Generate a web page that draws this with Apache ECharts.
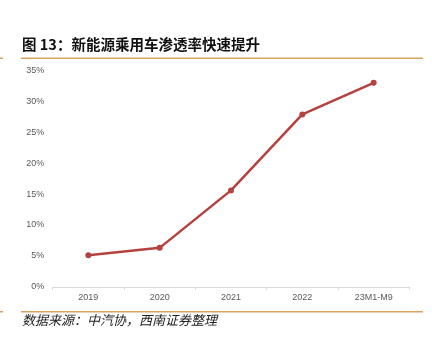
<!DOCTYPE html>
<html>
<head>
<meta charset="utf-8">
<script src="https://cdn.jsdelivr.net/npm/echarts@6/dist/echarts.min.js"></script>
<style>
  html, body { margin: 0; padding: 0; background: #fff; }
  #chart { width: 432px; height: 347px; }
</style>
</head>
<body>
<div id="chart"></div>
<script>
// Passenger NEV penetration rate by year
const categories = ['2019', '2020', '2021', '2022', '23M1-M9'];
const penetration = [5.1, 6.3, 15.6, 27.9, 33.0];
const yTicks = { min: 0, max: 35, interval: 5 };

const titleText = '图 13：新能源乘用车渗透率快速提升';
const sourceText = '数据来源：中汽协，西南证券整理';

const ruleColor = '#D8A460';
const lineColor = '#B4423F';
const labelColor = '#595959';

const chart = echarts.init(document.getElementById('chart'), null, { renderer: 'canvas' });

chart.setOption({
  animation: false,
  backgroundColor: '#fff',
  grid: { left: 52.7, right: 22.7, top: 70.5, bottom: 60.2, containLabel: false },
  xAxis: {
    type: 'category',
    data: categories,
    boundaryGap: true,
    axisLine: { lineStyle: { color: '#D9D9D9', width: 1 } },
    axisTick: { show: true, length: 3, lineStyle: { color: '#D9D9D9' } },
    axisLabel: { color: labelColor, fontSize: 9, fontFamily: 'Liberation Sans, Arial', margin: 6 }
  },
  yAxis: {
    type: 'value',
    min: yTicks.min,
    max: yTicks.max,
    interval: yTicks.interval,
    axisLine: { show: false },
    axisTick: { show: false },
    splitLine: { show: false },
    axisLabel: {
      color: labelColor, fontSize: 9, fontFamily: 'Liberation Sans, Arial', margin: 8.4,
      formatter: '{value}%'
    }
  },
  series: [{
    type: 'line',
    data: penetration,
    symbol: 'circle',
    symbolSize: 6,
    lineStyle: { color: lineColor, width: 2.5 },
    itemStyle: { color: lineColor }
  }],
  graphic: [
    {
      type: 'text', left: 22, top: 37,
      style: {
        text: titleText,
        font: 'bold 14.5px "Noto Sans CJK SC", sans-serif',
        fill: '#111'
      }
    },
    { type: 'rect', shape: { x: 21, y: 57.5, width: 402, height: 1.5 }, style: { fill: ruleColor } },
    { type: 'rect', shape: { x: 0, y: 57.5, width: 3, height: 1.5 }, style: { fill: ruleColor } },
    { type: 'rect', shape: { x: 21, y: 311, width: 402, height: 1.5 }, style: { fill: ruleColor } },
    { type: 'rect', shape: { x: 0, y: 311, width: 3, height: 1.5 }, style: { fill: ruleColor } },
    {
      type: 'text', left: 22, top: 314,
      style: {
        text: sourceText,
        font: 'italic 13px "Noto Sans CJK SC", sans-serif',
        fill: '#222'
      }
    }
  ]
});
</script>
</body>
</html>
